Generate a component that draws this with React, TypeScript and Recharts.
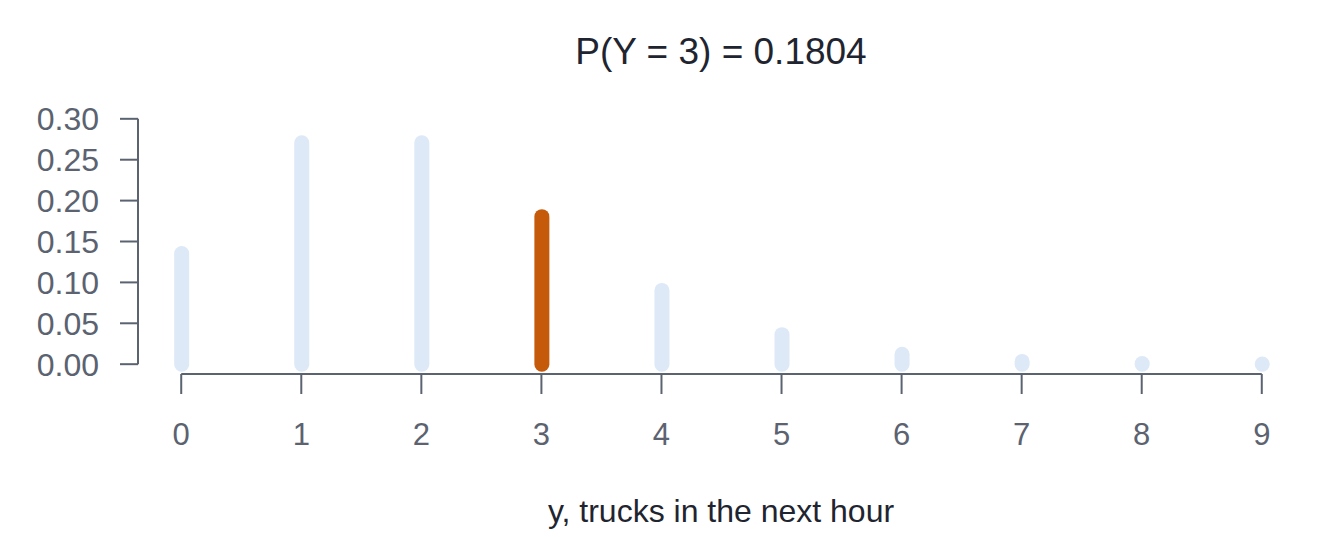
import React from "react";
import {
  ComposedChart,
  Bar,
  XAxis,
  YAxis,
  ReferenceLine,
  Cell,
} from "recharts";

/* ── Data ─────────────────────────────── */
const TRUCKS = [0, 1, 2, 3, 4, 5, 6, 7, 8, 9];
const PROBS = [0.1353, 0.2707, 0.2707, 0.1804, 0.0902, 0.0361, 0.012, 0.0034, 0.0009, 0.0002];
const Y_TICKS = [0, 0.05, 0.1, 0.15, 0.2, 0.25, 0.3];
const HIGHLIGHT = 3;

const DATA = TRUCKS.map((y, i) => ({ y, p: PROBS[i] }));

const FONT = '"Liberation Sans", Arial, sans-serif';
const AXIS = "#5b6270";
const BAR = "#dde9f6";
const BAR_HI = "#c55a0b";

// vertical line with round caps, like R's type="h" with lend round
function Stick(props: any) {
  const { x, y, width, height, fill } = props;
  const cx = x + width / 2;
  return (
    <line
      x1={cx}
      x2={cx}
      y1={y}
      y2={y + height}
      stroke={fill}
      strokeWidth={15}
      strokeLinecap="round"
    />
  );
}

export default function App() {
  const W = 1344;
  const H = 537;
  return (
    <div style={{ position: "absolute", left: 0, top: 0, width: W, height: H, background: "#fff" }}>
      <ComposedChart
        width={W}
        height={H}
        data={DATA}
        margin={{ top: 109, right: 39, bottom: 0, left: 0 }}
      >
        <XAxis
          dataKey="y"
          type="number"
          domain={[-0.36, 9.36]}
          allowDataOverflow
          ticks={TRUCKS}
          interval={0}
          axisLine={false}
          tickLine={{ stroke: AXIS, strokeWidth: 2 }}
          tickSize={20}
          tickMargin={29}
          tick={{ fill: AXIS, fontSize: 31, fontFamily: FONT }}
          height={163}
        />
        <YAxis
          type="number"
          domain={[-0.012, 0.312]}
          allowDataOverflow
          ticks={Y_TICKS}
          interval={0}
          tickFormatter={(v: number) => v.toFixed(2)}
          axisLine={false}
          tickLine={{ stroke: AXIS, strokeWidth: 2 }}
          tickSize={18}
          tickMargin={21}
          tick={{ fill: AXIS, fontSize: 32, fontFamily: FONT }}
          width={138}
        />
        <Bar dataKey="p" barSize={15} shape={<Stick />} isAnimationActive={false}>
          {DATA.map((d, i) => (
            <Cell key={i} fill={i === HIGHLIGHT ? BAR_HI : BAR} />
          ))}
        </Bar>
        <ReferenceLine
          segment={[
            { x: 0, y: -0.012 },
            { x: 9, y: -0.012 },
          ]}
          stroke={AXIS}
          strokeWidth={2}
          ifOverflow="visible"
        />
        <ReferenceLine
          segment={[
            { x: -0.36, y: 0 },
            { x: -0.36, y: 0.3 },
          ]}
          stroke={AXIS}
          strokeWidth={2}
          ifOverflow="visible"
        />
      </ComposedChart>
      <svg
        width={W}
        height={H}
        style={{ position: "absolute", left: 0, top: 0, pointerEvents: "none" }}
      >
        <text x={721} y={64} textAnchor="middle" fontSize={37} fontFamily={FONT} fill="#1f2530">
          P(Y = 3) = 0.1804
        </text>
        <text x={721} y={522} textAnchor="middle" fontSize={32} fontFamily={FONT} fill="#1f2530">
          y, trucks in the next hour
        </text>
      </svg>
    </div>
  );
}
